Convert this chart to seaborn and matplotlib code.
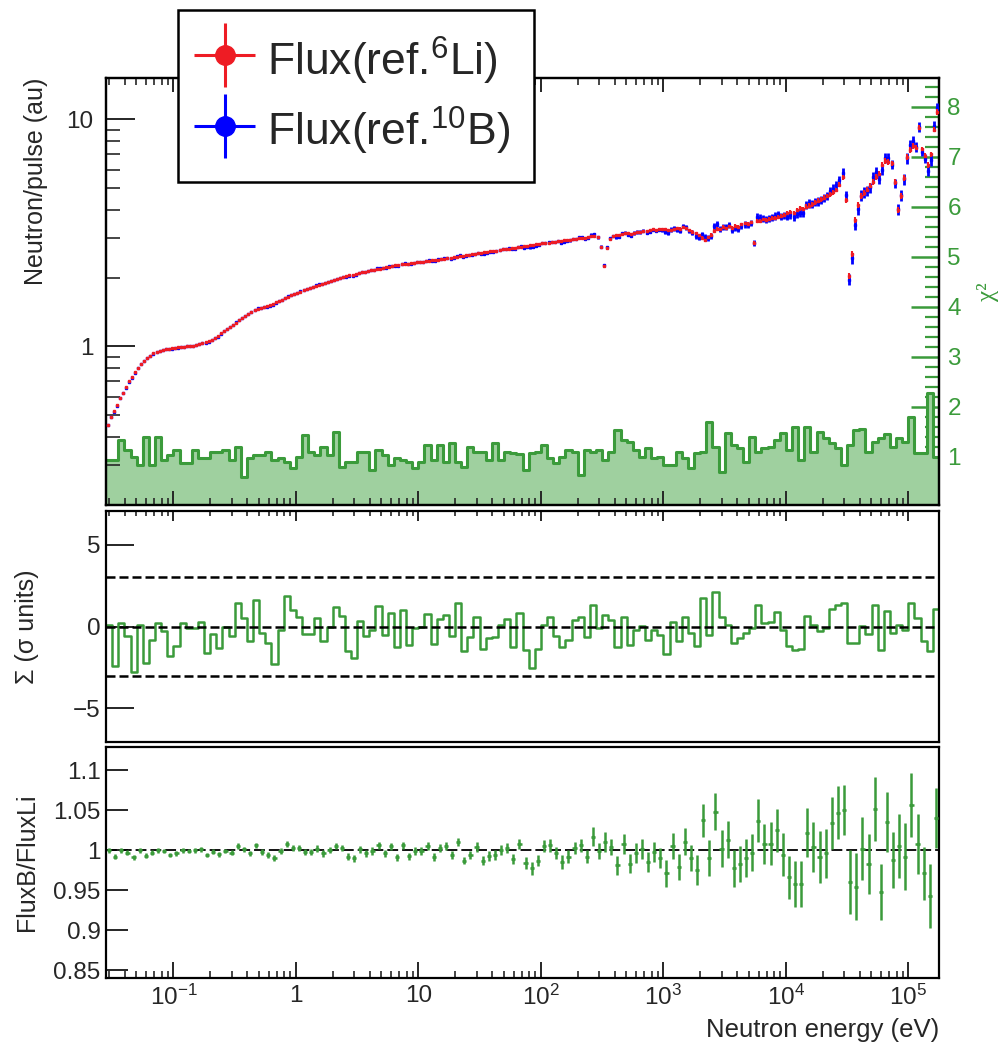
import numpy as np
import matplotlib
matplotlib.use("Agg")
import matplotlib.pyplot as plt
import seaborn as sns
from matplotlib.ticker import (FixedLocator, FixedFormatter, NullFormatter,
                               LogLocator, MultipleLocator)
from matplotlib.legend_handler import HandlerErrorbar
from matplotlib.container import ErrorbarContainer
from matplotlib.lines import Line2D
from matplotlib.collections import LineCollection

sns.set_style("ticks")
plt.rcParams["font.family"] = ["Liberation Sans", "DejaVu Sans"]
plt.rcParams["mathtext.fontset"] = "custom"
plt.rcParams["mathtext.rm"] = "Liberation Sans"
plt.rcParams["mathtext.it"] = "Liberation Sans:italic"
plt.rcParams["mathtext.bf"] = "Liberation Sans:bold"
plt.rcParams["mathtext.default"] = "regular"
plt.rcParams["axes.unicode_minus"] = True

# ------------------------------------------------------------------ data
LOG_E_MIN, LOG_E_MAX = -1.55, 5.25      # energy range (log10 eV)
N_FINE = 272                            # flux bins (40 / decade)
N_COARSE = 136                          # chi2 / sigma / ratio bins (20 / decade)

# Neutron flux, reference 6Li (au)
flux_li = [
    0.45, 0.49, 0.52, 0.55, 0.59, 0.62, 0.66, 0.70, 0.735, 0.77,
    0.80, 0.835, 0.865, 0.89, 0.91, 0.93, 0.945, 0.955, 0.965, 0.972,
    0.978, 0.982,
    0.986, 0.99, 0.993, 0.996, 1.0, 1.003, 1.008, 1.013, 1.02, 1.03,
    1.04, 1.055, 1.07, 1.09, 1.11, 1.14, 1.165, 1.19, 1.215, 1.24,
    1.27, 1.30, 1.33, 1.36, 1.39, 1.42, 1.44, 1.46, 1.475, 1.49,
    1.505, 1.52, 1.54, 1.56, 1.58, 1.60, 1.625, 1.65, 1.68, 1.70,
    1.72, 1.74, 1.77, 1.79, 1.81, 1.83, 1.85, 1.87, 1.885, 1.90,
    1.915, 1.935, 1.955, 1.975, 1.995, 2.02, 2.04, 2.055, 2.07, 2.085,
    2.10, 2.115, 2.13, 2.145, 2.16, 2.175, 2.19, 2.20, 2.215, 2.23,
    2.24, 2.255, 2.27, 2.28, 2.295, 2.305, 2.315, 2.325, 2.335, 2.345,
    2.35, 2.36, 2.37, 2.38, 2.39, 2.40, 2.41, 2.42, 2.43, 2.44,
    2.45, 2.47, 2.48, 2.49, 2.50, 2.52, 2.53, 2.54, 2.55, 2.57,
    2.58, 2.59, 2.60, 2.62, 2.63, 2.64, 2.65, 2.67, 2.68, 2.69,
    2.71, 2.72, 2.73, 2.75, 2.76, 2.77, 2.79, 2.80, 2.81, 2.83,
    2.84, 2.85, 2.86, 2.87, 2.88, 2.91, 2.90, 2.93, 2.94, 2.95,
    2.97, 2.96, 3.00, 3.01, 3.00, 3.03, 3.05, 3.07, 3.02, 2.75,
    2.25, 2.70, 2.98, 3.05, 3.08, 3.10, 3.12, 3.14, 3.15, 3.13,
    3.17, 3.20, 3.18, 3.22, 3.21, 3.25, 3.27, 3.24, 3.30, 3.28,
    3.28, 3.26, 3.25, 3.29, 3.32, 3.30, 3.35, 3.31, 3.26, 3.20,
    3.14, 3.08, 3.00, 2.93, 3.02, 3.10, 3.22, 3.30, 3.27, 3.35,
    3.31, 3.38, 3.33, 3.40, 3.36, 3.44, 3.48, 3.45, 3.52, 2.85,
    3.58, 3.55, 3.62, 3.60, 3.64, 3.68, 3.66, 3.72, 3.75, 3.80,
    3.85, 3.92, 3.88, 4.00, 4.05, 4.02, 4.12, 4.17, 4.22, 4.30,
    4.38, 4.45, 4.52, 4.60, 4.68, 4.78, 4.88, 5.15, 5.55, 4.40,
    2.05, 2.55, 3.60, 4.20, 4.60, 4.75, 4.90, 5.10, 5.30, 5.55,
    5.75, 6.30, 6.55, 6.50, 6.40, 5.30, 4.00, 4.60, 5.50, 6.80,
    7.30, 7.60, 7.50, 9.20, 7.40, 6.90, 6.30, 7.00, 9.00, 10.8,
]

# chi-square per bin (right axis)
chi2_values = [
    0.93, 0.93, 1.33, 1.13, 1.0, 0.83, 1.4, 0.83, 1.4, 0.93,
    1.03, 1.13, 0.87, 0.87, 1.13, 0.97, 0.97, 1.1, 1.1, 1.13,
    0.93, 1.2, 0.6, 0.97, 1.03, 1.03, 1.1, 0.93, 0.97, 0.9,
    0.77, 1.0, 1.43, 1.1, 1.03, 1.2, 1.03, 1.5, 0.8, 0.9,
    0.9, 1.1, 1.1, 0.73, 1.13, 1.03, 0.83, 0.97, 0.93, 0.9,
    0.77, 0.9, 1.23, 0.93, 1.23, 0.9, 1.27, 0.9, 0.8, 1.2,
    1.1, 1.1, 0.93, 1.27, 0.93, 1.1, 1.07, 1.05,
    0.73, 1.07, 1.1, 1.23, 0.97, 0.87, 1.0, 1.13, 1.1, 0.63,
    1.13, 1.1, 1.13, 0.93, 1.1, 1.53, 1.33, 1.3, 1.13, 1.0,
    1.17, 0.97, 1.0, 0.83, 0.83, 1.1, 0.97, 0.77, 1.07, 1.1,
    1.7, 1.2, 0.7, 1.47, 1.23, 1.17, 0.9, 1.4, 1.1, 1.17,
    1.2, 1.33, 1.47, 1.13, 1.6, 0.93, 1.6, 1.1, 1.5, 1.37,
    1.27, 1.17, 0.83, 1.23, 1.53, 1.55, 1.1, 1.3, 1.37, 1.45,
    1.2, 1.37, 1.3, 1.8, 1.07, 1.07, 2.27, 1.0,
]

# Sigma (difference in sigma units)
sigma_values = [
    0.1, -2.44, 0.2, -0.6, -2.78, 0.1, -2.24, -0.8, 0.2, -0.3,
    -1.83, -1.22, 0.2, -0.1, -0.1, 0.3, -1.59, -0.45, -1.32, 0.0,
    -0.57, 1.46, 0.5, -0.91, 1.63, -0.4, -1.0, -2.3, -0.2, 1.87,
    1.02, 0.6, -0.45, -0.45, 0.5, -0.91, 0.0, 1.16, 0.65, -1.52,
    -1.93, 0.35, -0.6, -0.2, 1.26, -0.5, 0.85, -1.26, 0.98, -1.12,
    -0.1, 0.0, 0.77, -1.06, 0.45, 0.71, -0.55, 1.46, -1.52, -0.65,
    0.6, -1.38, -0.71, -0.65, 0.1, 0.45, -1.24, 0.81,
    -1.46, -2.54, -1.38, 0.1, 0.57, -0.6, -1.26, -0.81, 0.41, 0.61,
    -0.65, 1.32, -0.1, 0.71, 0.41, -1.26, 0.55, -1.12, -0.2, 0.04,
    -0.81, -0.2, -0.5, -1.67, 0.3, -0.91, 0.57, -0.4, -1.18, 1.73,
    -0.5, 2.13, 0.57, 0.1, -1.02, -0.71, -0.4, -0.1, 1.32, 0.24,
    0.3, 0.91, -0.24, -1.22, -1.42, -1.38, 0.65, 0.1, -0.3, -0.1,
    1.06, 1.32, 1.42, -0.98, -1.02, 0.06, -0.47, 1.32, -1.42, 0.96,
    -0.37, 0.1, -0.2, 1.42, 0.51, -0.91, -1.52, 1.06,
]

# FluxB / FluxLi ratio and its uncertainty
ratio_values = [
    1.0, 0.992, 1.0, 0.997, 0.991, 1.0, 0.993, 0.997, 1.0, 0.999,
    0.994, 0.996, 1.0, 0.999, 1.0, 1.001, 0.994, 0.998, 0.995, 0.999,
    0.997, 1.005, 1.001, 0.996, 1.006, 0.998, 0.994, 0.99, 0.999, 1.0075,
    1.003, 1.003, 0.998, 0.998, 1.002, 0.996, 1.0, 1.005, 1.003, 0.992,
    0.99, 1.001, 0.996, 0.999, 1.006, 0.996, 1.005, 0.991, 1.006, 0.9925,
    0.999, 0.999, 1.005, 0.991, 1.003, 1.005, 0.994, 1.0105, 0.987, 0.994,
    1.004, 0.987, 0.9925, 0.994, 1.0, 1.003, 0.989, 1.008,
    0.984, 0.977, 0.987, 1.005, 1.006, 0.996, 0.985, 0.992, 1.003, 1.006,
    0.992, 1.017, 0.999, 1.0105, 1.004, 0.981, 1.0075, 0.983, 0.996, 1.002,
    0.985, 0.998, 0.99, 0.971, 1.005, 0.979, 1.0105, 0.99, 0.975, 1.0375,
    0.99, 1.048, 1.002, 1.013, 0.977, 0.9825, 0.99, 0.997, 1.037, 1.0075,
    1.008, 1.025, 0.994, 0.966, 0.9575, 0.958, 1.022, 1.004, 0.991, 0.996,
    1.034, 1.047, 1.05, 0.96, 0.954, 1.002, 0.9825, 1.052, 0.948, 1.035,
    0.9875, 1.005, 0.992, 1.056, 1.0075, 0.971, 0.942, 1.04,
]
ratio_errors = [
    0.003, 0.003, 0.003, 0.003, 0.003, 0.003, 0.003, 0.003, 0.003, 0.003,
    0.003, 0.003, 0.003, 0.003, 0.003, 0.003, 0.003, 0.003, 0.003, 0.003,
    0.0035, 0.0035, 0.0035, 0.0035, 0.0035, 0.0035, 0.0035, 0.0035, 0.0035, 0.0035,
    0.004, 0.004, 0.004, 0.004, 0.004, 0.004, 0.004, 0.004, 0.004, 0.004,
    0.0045, 0.0045, 0.0045, 0.0045, 0.0045, 0.0045, 0.0045, 0.0045, 0.0045, 0.0045,
    0.005, 0.005, 0.005, 0.005, 0.005, 0.005, 0.005, 0.005, 0.005, 0.005,
    0.006, 0.006, 0.006, 0.006, 0.006, 0.006, 0.006, 0.006,
    0.0075, 0.0083, 0.0075, 0.0075, 0.0083, 0.0075, 0.0083, 0.0083, 0.0075, 0.0083,
    0.0083, 0.0117, 0.0104, 0.0125, 0.0104, 0.0117, 0.0125, 0.0117, 0.0125, 0.0125,
    0.0125, 0.0125, 0.0125, 0.0167, 0.0167, 0.0167, 0.0167, 0.0167, 0.0188, 0.0208,
    0.023, 0.023, 0.023, 0.023, 0.023, 0.023, 0.024, 0.023, 0.027, 0.025,
    0.027, 0.027, 0.027, 0.027, 0.029, 0.029, 0.031, 0.031, 0.0325, 0.031,
    0.033, 0.033, 0.031, 0.04, 0.042, 0.04, 0.0375, 0.04, 0.035, 0.0375,
    0.035, 0.04, 0.042, 0.04, 0.0375, 0.033, 0.04, 0.0375,
]

# share of the ratio uncertainty carried by each flux (per fine bin)
LI_ERR_SHARE = 0.75
B_ERR_SHARE = 1.35

energy_ticks = [1e-1, 1, 10, 1e2, 1e3, 1e4, 1e5]
energy_tick_labels = ["$10^{-1}$", "1", "10", "$10^{2}$", "$10^{3}$", "$10^{4}$", "$10^{5}$"]
flux_ticks = [1, 10]
flux_tick_labels = ["1", "10"]
sigma_ticks = [-5, 0, 5]
sigma_lines = [-3, 0, 3]
ratio_ticks = [0.85, 0.9, 0.95, 1.0, 1.05, 1.1]
ratio_tick_labels = ["0.85", "0.9", "0.95", "1", "1.05", "1.1"]

legend_labels = [r"Flux(ref.$^{6}$Li)", r"Flux(ref.$^{10}$B)"]

# ------------------------------------------------------------------ derived arrays
fine_edges_log = np.linspace(LOG_E_MIN, LOG_E_MAX, N_FINE + 1)
fine_centers = 10 ** (0.5 * (fine_edges_log[:-1] + fine_edges_log[1:]))
coarse_edges_log = np.linspace(LOG_E_MIN, LOG_E_MAX, N_COARSE + 1)
coarse_centers_log = 0.5 * (coarse_edges_log[:-1] + coarse_edges_log[1:])
coarse_centers = 10 ** coarse_centers_log

fli = np.array(flux_li)
rat = np.array(ratio_values)
rerr = np.array(ratio_errors)
parent = np.arange(N_FINE) // 2
fb = fli * rat[parent]
err_li = fli * rerr[parent] * LI_ERR_SHARE
err_b = fb * rerr[parent] * B_ERR_SHARE

half_w = 0.5 * (LOG_E_MAX - LOG_E_MIN) / N_COARSE * 0.7
xerr_ratio = [coarse_centers - 10 ** (coarse_centers_log - half_w),
              10 ** (coarse_centers_log + half_w) - coarse_centers]

# ------------------------------------------------------------------ style
RED = "#ee1c24"
BLUE = "#0000ff"
GREEN = "#3b9b3b"
FILL_GREEN = "#9fd09f"
TICK_FS = 17.5
LABEL_FS = 18

W, H = 1007, 1049
fig = plt.figure(figsize=(W / 100, H / 100), dpi=100)


def rect(l, t, r, b):
    return [l / W, 1 - b / H, (r - l) / W, (b - t) / H]


ax_top = fig.add_axes(rect(106, 78, 939, 505))
ax_mid = fig.add_axes(rect(106, 511, 939, 742))
ax_bot = fig.add_axes(rect(106, 747, 939, 978))
for ax in (ax_top, ax_mid, ax_bot):
    ax.set_xscale("log")
ax_top.set_yscale("log")

ax_chi = ax_top.twinx()
ax_chi.set_xscale("log")

hist_kw = dict(bins=N_COARSE, binrange=(LOG_E_MIN, LOG_E_MAX), element="step")

# ---- chi2 histogram (right axis)
sns.histplot(x=coarse_centers, weights=np.array(chi2_values), fill=True,
             color=FILL_GREEN, alpha=1.0, linewidth=0, ax=ax_chi, **hist_kw)
sns.histplot(x=coarse_centers, weights=np.array(chi2_values), fill=False,
             color=GREEN, linewidth=2.2, ax=ax_chi, **hist_kw)

ax_top.set_zorder(ax_chi.get_zorder() + 1)
ax_top.patch.set_visible(False)

# ---- fluxes
ax_top.errorbar(fine_centers, fb, yerr=err_b, fmt="s", ms=1.8, color=BLUE,
                elinewidth=2.0, capsize=0, zorder=3)
ax_top.errorbar(fine_centers, fli, yerr=err_li, fmt="s", ms=1.8, color=RED,
                elinewidth=1.5, capsize=0, zorder=4)

# ---- sigma panel
sns.histplot(x=coarse_centers, weights=np.array(sigma_values), fill=False,
             color=GREEN, linewidth=1.8, ax=ax_mid, **hist_kw)
for yv in sigma_lines:
    ax_mid.axhline(yv, color="black", lw=1.8, ls=(0, (3.6, 1.6)), zorder=3)

# ---- ratio panel
ax_bot.axhline(1.0, color="black", lw=1.3, ls=(0, (6, 2.2)), zorder=1)
ax_bot.errorbar(coarse_centers, rat, yerr=rerr, xerr=xerr_ratio, fmt="s",
                ms=1.5, color=GREEN, elinewidth=1.8, capsize=0, zorder=3)

# ------------------------------------------------------------------ axes cosmetics
for ax in (ax_top, ax_mid, ax_bot, ax_chi):
    ax.set_xlim(10 ** LOG_E_MIN, 10 ** LOG_E_MAX)
    for s in ax.spines.values():
        s.set_visible(True)
        s.set_color("black")
        s.set_linewidth(1.6)

for ax in (ax_top, ax_mid, ax_bot):
    ax.xaxis.set_major_locator(FixedLocator(energy_ticks))
    ax.xaxis.set_minor_locator(LogLocator(base=10, subs=np.arange(2, 10), numticks=40))
    ax.xaxis.set_minor_formatter(NullFormatter())
    ax.set_xlabel("")

# top panel
ax_top.set_ylim(0.2, 15.2)
ax_top.yaxis.set_major_locator(FixedLocator(flux_ticks))
ax_top.yaxis.set_major_formatter(FixedFormatter(flux_tick_labels))
ax_top.yaxis.set_minor_locator(LogLocator(base=10, subs=np.arange(2, 10), numticks=40))
ax_top.yaxis.set_minor_formatter(NullFormatter())
ax_top.tick_params(axis="x", which="major", direction="in", top=True, bottom=True,
                   length=10, width=1.4, labelbottom=False)
ax_top.tick_params(axis="x", which="minor", direction="in", top=True, bottom=True,
                   length=5, width=1.2)
ax_top.tick_params(axis="y", which="major", direction="in", left=True, right=False,
                   length=21, width=1.4, labelsize=TICK_FS, pad=9)
ax_top.tick_params(axis="y", which="minor", direction="in", left=True, right=False,
                   length=10, width=1.2)
ax_top.set_ylabel("Neutron/pulse (au)", fontsize=LABEL_FS, loc="top")
ax_top.yaxis.set_label_coords(-0.070, 1.0)

# chi2 axis
ax_chi.set_ylim(0.03, 8.57)
ax_chi.yaxis.set_major_locator(MultipleLocator(1))
ax_chi.yaxis.set_minor_locator(MultipleLocator(0.2))
ax_chi.tick_params(axis="y", which="major", direction="in", length=20, width=1.8,
                   colors=GREEN, labelsize=TICK_FS, pad=6)
ax_chi.tick_params(axis="y", which="minor", direction="in", length=10, width=1.6,
                   colors=GREEN)
ax_chi.set_ylabel("χ²", color=GREEN, fontsize=18,
                  family=["Liberation Serif", "DejaVu Serif"])
ax_chi.yaxis.set_label_coords(1.0456, 0.5)

# sigma panel
ax_mid.set_ylim(-7.05, 7.05)
ax_mid.yaxis.set_major_locator(FixedLocator(sigma_ticks))
ax_mid.tick_params(axis="x", which="major", direction="in", top=True, bottom=False,
                   length=7, width=1.4, labelbottom=False)
ax_mid.tick_params(axis="x", which="minor", direction="in", top=True, bottom=False,
                   length=3.6, width=1.2)
ax_mid.tick_params(axis="y", which="major", direction="in", length=20, width=1.4,
                   labelsize=TICK_FS, pad=4)
ax_mid.set_ylabel("Σ (σ units)", fontsize=LABEL_FS)
ax_mid.yaxis.set_label_coords(-0.080, 0.5)

# ratio panel
ax_bot.set_ylim(0.84, 1.129)
ax_bot.yaxis.set_major_locator(FixedLocator(ratio_ticks))
ax_bot.yaxis.set_major_formatter(FixedFormatter(ratio_tick_labels))
ax_bot.xaxis.set_major_formatter(FixedFormatter(energy_tick_labels))
ax_bot.tick_params(axis="x", which="major", direction="in", top=False, bottom=True,
                   length=11.5, width=1.4, labelsize=TICK_FS, pad=5)
ax_bot.tick_params(axis="x", which="minor", direction="in", top=False, bottom=True,
                   length=5, width=1.2)
ax_bot.tick_params(axis="y", which="major", direction="in", length=16, width=1.4,
                   labelsize=TICK_FS, pad=4)
ax_bot.set_ylabel("FluxB/FluxLi", fontsize=LABEL_FS)
ax_bot.yaxis.set_label_coords(-0.080, 0.5)
ax_bot.set_xlabel("Neutron energy (eV)", fontsize=18.5, loc="right", labelpad=6)


# ------------------------------------------------------------------ legend
def legend_proxy(color):
    marker = Line2D([], [], color=color, marker="o", markersize=14, linestyle="none")
    xbar = LineCollection([], colors=[color], linewidths=2.2)
    ybar = LineCollection([], colors=[color], linewidths=2.2)
    return ErrorbarContainer((marker, (), (xbar, ybar)), has_xerr=True, has_yerr=True)


leg = fig.legend(handles=[legend_proxy(RED), legend_proxy(BLUE)], labels=legend_labels,
                 loc="upper left", bbox_to_anchor=(178 / W, 1 - 10 / H),
                 bbox_transform=fig.transFigure, borderaxespad=0,
                 fontsize=32, frameon=True, fancybox=False, framealpha=1,
                 edgecolor="black", borderpad=0.55, handlelength=1.0,
                 handleheight=1.35, handletextpad=0.45, labelspacing=0.42,
                 numpoints=1,
                 handler_map={ErrorbarContainer: HandlerErrorbar(xerr_size=0.68, yerr_size=0.72)})
leg.get_frame().set_linewidth(1.8)

fig.savefig("out.png", dpi=100)
